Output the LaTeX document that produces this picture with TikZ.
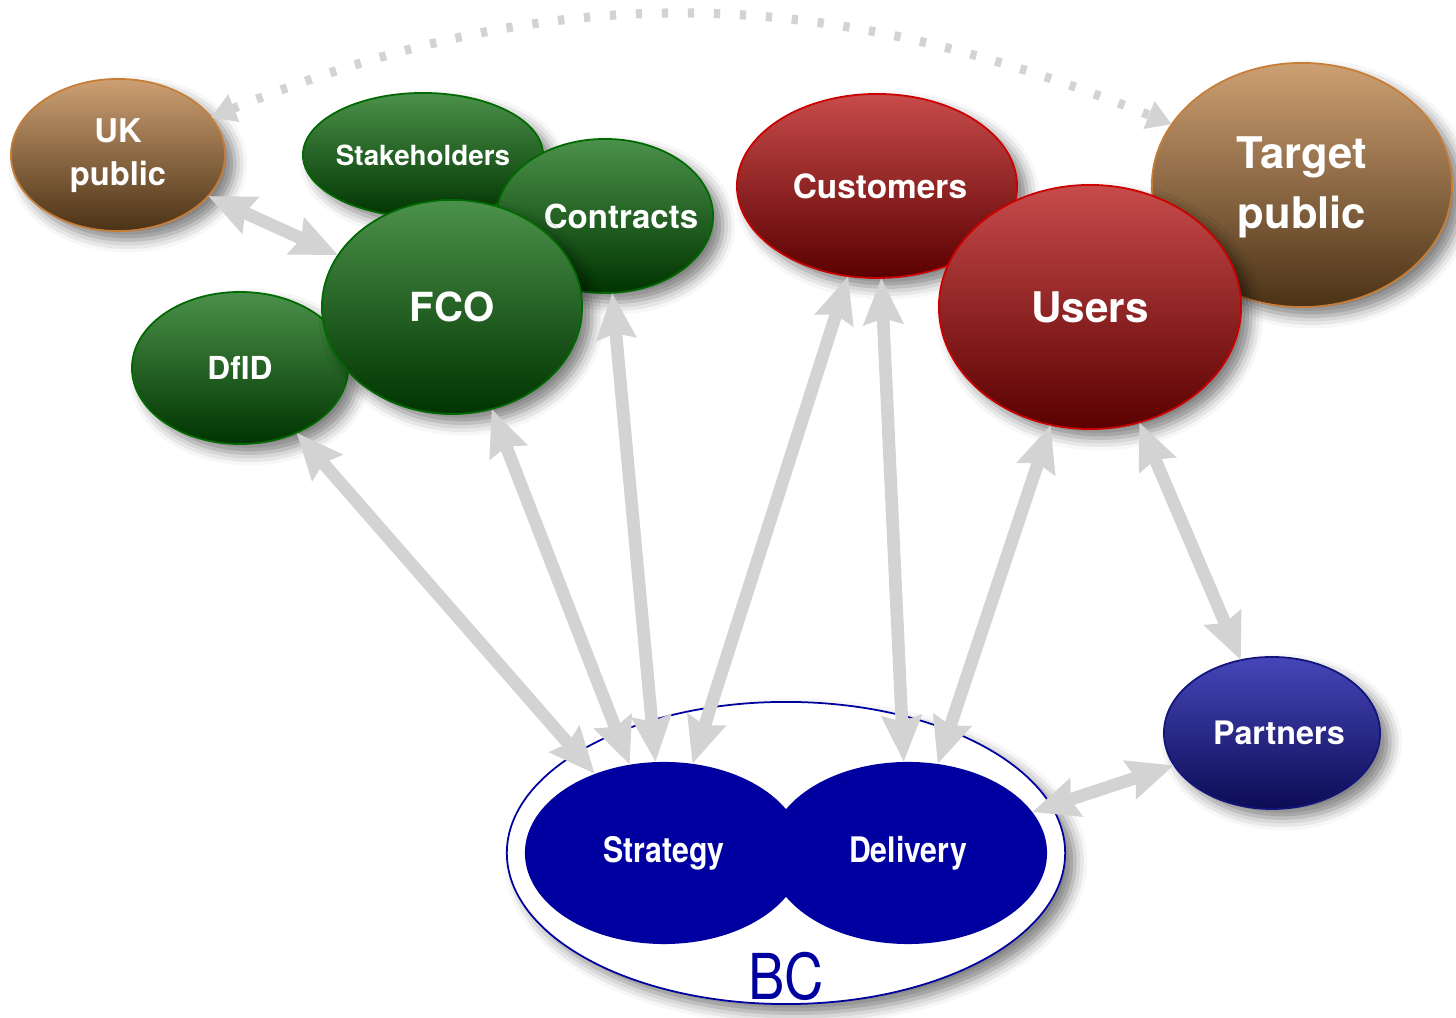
\documentclass[tikz,border=0pt]{standalone}
\usepackage{fontspec}
\setmainfont{TeX Gyre Heros}
\newfontfamily\narrowfont[FakeStretch=0.86]{TeX Gyre Heros}
\usetikzlibrary{
  shapes.geometric,
  arrows.meta,
  shadows.blur
}
\definecolor{browntop}{RGB}{205, 160, 115}
\definecolor{brownbottom}{RGB}{75, 50, 22}
\definecolor{brownline}{RGB}{200, 125, 55}
\definecolor{greentop}{RGB}{75, 145, 75}
\definecolor{greenbottom}{RGB}{0, 52, 0}
\definecolor{greenline}{RGB}{0, 105, 0}
\definecolor{redtop}{RGB}{200, 75, 75}
\definecolor{redbottom}{RGB}{90, 0, 0}
\definecolor{redline}{RGB}{205, 0, 0}
\definecolor{navytop}{RGB}{70, 70, 185}
\definecolor{navybottom}{RGB}{12, 12, 85}
\definecolor{navyline}{RGB}{20, 20, 125}
\definecolor{bcblue}{RGB}{0, 0, 160}
\definecolor{arrowcolor}{RGB}{211, 211, 211}
\tikzset{
blob/.style={
  ellipse,
  inner sep=0pt,
  outer sep=0pt,
  line width=0.5pt,
  blur shadow={shadow xshift=2.8pt, shadow yshift=-2.6pt,
    shadow blur radius=3.5pt, shadow opacity=50}
},
brownblob/.style={
  blob,
  draw=brownline,
  top color=browntop,
  bottom color=brownbottom
},
greenblob/.style={
  blob,
  draw=greenline,
  top color=greentop,
  bottom color=greenbottom
},
redblob/.style={
  blob,
  draw=redline,
  top color=redtop,
  bottom color=redbottom
},
navyblob/.style={
  blob,
  draw=navyline,
  top color=navytop,
  bottom color=navybottom
},
bcblob/.style={
  blob,
  draw=bcblue,
  fill=white
},
unitblob/.style={
  ellipse,
  inner sep=0pt,
  outer sep=0pt,
  fill=bcblue
},
blobtext/.style={
  text=white,
  align=center
},
bclabel/.style={
  font=\narrowfont\fontsize{18}{21}\selectfont,
  text=bcblue
},
conn/.style={
  {Stealth[length=13pt,width=11pt,inset=1.5pt]}-{Stealth[length=13pt,width=11pt,inset=1.5pt]},
  line width=3.6pt,
  draw=arrowcolor
},
dotconn/.style={
  {Triangle[length=7pt,width=8pt]}-{Triangle[length=7pt,width=8pt]},
  line width=2.6pt,
  draw=arrowcolor,
  dash pattern=on 1.8pt off 5.6pt
}
}

\begin{document}
\begin{tikzpicture}[x=0.01cm, y=0.01cm]
  \useasboundingbox (0,0) rectangle (1456,1018);

  % BC and its two units
  \node[bcblob, minimum width=5.58cm, minimum height=3.02cm] (bc) at (786,165) {};
  \node[unitblob, minimum width=2.78cm, minimum height=1.82cm] (strategy) at (664,165) {};
  \node[unitblob, minimum width=2.78cm, minimum height=1.82cm] (delivery) at (908,165) {};
  \node[blobtext, font=\narrowfont\bfseries\fontsize{10}{12}\selectfont] (strategy-t) at (strategy) {Strategy};
  \node[blobtext, font=\narrowfont\bfseries\fontsize{10}{12}\selectfont] (delivery-t) at (delivery) {Delivery};
  \node[bclabel] (bc-t) at (786,42) {BC};

  % government side
  \node[brownblob, minimum width=2.14cm, minimum height=1.52cm] (ukpublic) at (118,863) {};
  \node[blobtext, font=\bfseries\fontsize{9.3}{12.2}\selectfont] (ukpublic-t) at (118,862) {UK\\public};
  \node[greenblob, minimum width=2.40cm, minimum height=1.24cm] (stakeholders) at (423,863) {};
  \node[blobtext, font=\bfseries\fontsize{7.9}{10}\selectfont] (stakeholders-t) at (stakeholders) {Stakeholders};
  \node[greenblob, minimum width=2.16cm, minimum height=1.54cm] (contracts) at (605,802) {};
  \node[blobtext, font=\bfseries\fontsize{9.4}{11}\selectfont] (contracts-t) at (621,802) {Contracts};
  \node[greenblob, minimum width=2.16cm, minimum height=1.52cm] (dfid) at (240,650) {};
  \node[blobtext, font=\bfseries\fontsize{9}{11}\selectfont] (dfid-t) at (dfid) {DfID};
  \node[greenblob, minimum width=2.60cm, minimum height=2.14cm] (fco) at (452,711) {};
  \node[blobtext, font=\bfseries\fontsize{11.4}{14}\selectfont] (fco-t) at (fco) {FCO};

  % audience side
  \node[redblob, minimum width=2.80cm, minimum height=1.84cm] (customers) at (877,832) {};
  \node[blobtext, font=\bfseries\fontsize{9.5}{11}\selectfont] (customers-t) at (880,832) {Customers};
  \node[brownblob, minimum width=3.00cm, minimum height=2.44cm] (targetpublic) at (1302,833) {};
  \node[blobtext, font=\bfseries\fontsize{12.4}{17}\selectfont] (targetpublic-t) at (1302,831) {Target\\public};
  \node[redblob, minimum width=3.02cm, minimum height=2.44cm] (users) at (1090,711) {};
  \node[blobtext, font=\bfseries\fontsize{12}{14}\selectfont] (users-t) at (users) {Users};
  \node[navyblob, minimum width=2.16cm, minimum height=1.52cm] (partners) at (1272,285) {};
  \node[blobtext, font=\bfseries\fontsize{9.2}{11}\selectfont] (partners-t) at (1279,285) {Partners};

  % links
  \draw[dotconn] (ukpublic.22) to[out=22, in=158] (targetpublic.155);
  \draw[conn] (ukpublic) -- (fco);
  \draw[conn] (dfid) -- (strategy);
  \draw[conn] (fco) -- (strategy);
  \draw[conn] (contracts) -- (strategy);
  \draw[conn] (customers) -- (strategy);
  \draw[conn] (customers) -- (delivery);
  \draw[conn] (users) -- (delivery);
  \draw[conn] (users) -- (partners);
  \draw[conn] (partners) -- (delivery);
\end{tikzpicture}
\end{document}
